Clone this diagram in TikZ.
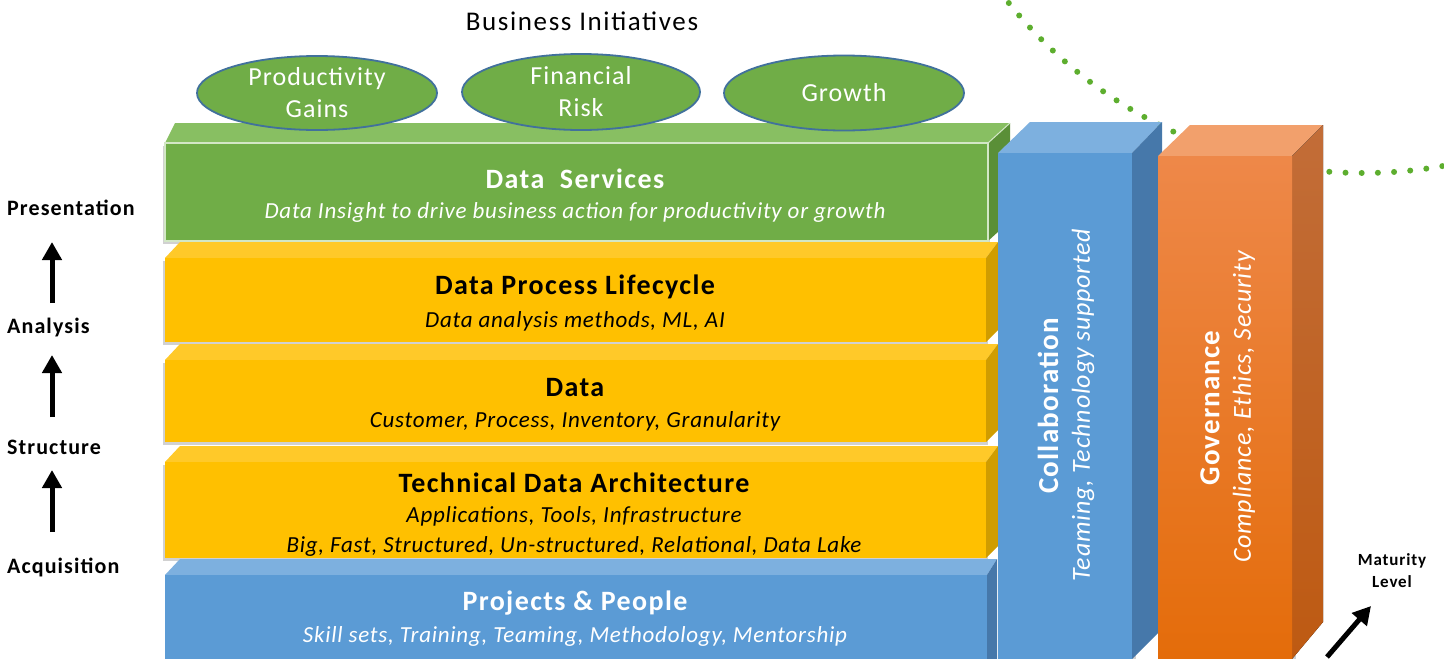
\documentclass[tikz,border=0pt]{standalone}
\usepackage{fontspec}
\setmainfont{Carlito}
\usetikzlibrary{arrows.meta,shapes.geometric}
\definecolor{gfront}{HTML}{70AD47}
\definecolor{gtop}{HTML}{88BF62}
\definecolor{gside}{HTML}{5A8F37}
\definecolor{gedge}{HTML}{D3E7C6}
\definecolor{yfront}{HTML}{FFC000}
\definecolor{ytop}{HTML}{FFC929}
\definecolor{yside}{HTML}{D09D00}
\definecolor{bfront}{HTML}{5B9BD5}
\definecolor{btop}{HTML}{7DB0DF}
\definecolor{bside}{HTML}{4678AA}
\definecolor{otop}{HTML}{F2A06C}
\definecolor{ofronttop}{HTML}{EE8849}
\definecolor{ofrontbot}{HTML}{E46C0A}
\definecolor{osidetop}{HTML}{C26D38}
\definecolor{osidebot}{HTML}{BE5A12}
\definecolor{ellborder}{HTML}{41719C}
\definecolor{dotgreen}{HTML}{5DAE2E}
\newcommand{\ls}[1]{\addfontfeature{LetterSpace=#1}}
\tikzset{
  ttl/.style={font=\fontsize{28}{32}\selectfont\bfseries\ls{5}},
  subt/.style={font=\fontsize{23}{30}\selectfont\itshape\ls{3.3}, align=center},
  coltitle/.style={font=\fontsize{29}{32}\selectfont\bfseries\ls{4}, text=white, rotate=90},
  colsub/.style={font=\fontsize{26}{30}\selectfont\itshape\ls{3}, text=white, rotate=90},
  lvl/.style={font=\fontsize{22}{26}\selectfont\bfseries\ls{5}, anchor=west, inner sep=0pt},
  initiative/.style={ellipse, fill=gfront, draw=ellborder, line width=1.8pt},
  elltext/.style={font=\fontsize{26}{32}\selectfont\ls{4}, text=white, align=center},
  bigarrow/.style={line width=5pt, -{Triangle[width=19pt,length=18pt]}},
  shadowfill/.style={fill=black, opacity=0.18},
  dotline/.style={dotgreen, line width=6pt, line cap=round, dash pattern=on 0pt off 16.2pt}
}
\begin{document}
\begin{tikzpicture}[x=1pt,y=-1pt]
\useasboundingbox (0,0) rectangle (1444,659);
\fill[white] (0,0) rectangle (1444,659);

% dotted arc
\begin{scope}
\clip (0,0) rectangle (1444,659);
\draw[dotline] (1363,-281) circle[radius=454pt];
\end{scope}

% shadows
\fill[shadowfill] (163,146) rectangle (990,244);
\fill[shadowfill] (163,261) rectangle (988,345);
\fill[shadowfill] (163,363) rectangle (988,445);
\fill[shadowfill] (163,465) rectangle (988,561);

% Data Services (green)
\fill[gtop] (165,143) -- (175,123) -- (1010,123) -- (988,143) -- cycle;
\fill[gside] (988,143) -- (1010,123) -- (1010,221) -- (988,241) -- cycle;
\fill[gfront] (165,143) rectangle (988,241);
\draw[gedge, line width=1.2pt] (165,241) -- (165,143) -- (988,143) -- (988,241) -- cycle;
\draw[gedge, line width=1pt] (988,143) -- (1010,123);

% Data Process Lifecycle (yellow)
\fill[ytop] (165,258) -- (180,242) -- (998,242) -- (986,258) -- cycle;
\fill[yside] (986,258) -- (998,242) -- (998,330) -- (986,342) -- cycle;
\fill[yfront] (165,258) rectangle (986,342);

% Data (yellow)
\fill[ytop] (165,360) -- (180,344) -- (998,344) -- (986,360) -- cycle;
\fill[yside] (986,360) -- (998,344) -- (998,430) -- (986,442) -- cycle;
\fill[yfront] (165,360) rectangle (986,442);

% Technical Data Architecture (yellow)
\fill[ytop] (165,462) -- (180,446) -- (998,446) -- (986,462) -- cycle;
\fill[yside] (986,462) -- (998,446) -- (998,546) -- (986,558) -- cycle;
\fill[yfront] (165,462) rectangle (986,558);

% Projects & People (blue)
\fill[btop] (165,575) -- (180,559) -- (997,559) -- (987,575) -- cycle;
\fill[bside] (987,575) -- (997,559) -- (997,659) -- (987,659) -- cycle;
\fill[bfront] (165,575) rectangle (987,659);

% Collaboration column
\fill[shadowfill] (1000,156) rectangle (1136,659);
\fill[btop] (998,153) -- (1030,122) -- (1162,122) -- (1132,153) -- cycle;
\fill[bside] (1132,153) -- (1162,122) -- (1162,629) -- (1132,659) -- cycle;
\fill[bfront] (998,153) rectangle (1132,659);

% Governance column
\fill[shadowfill] (1160,159) rectangle (1296,659);
\fill[otop] (1158,156) -- (1190,125) -- (1323,125) -- (1292,156) -- cycle;
\fill[top color=osidetop, bottom color=osidebot] (1292,156) -- (1323,125) -- (1323,622) -- (1292,659) -- cycle;
\fill[top color=ofronttop, bottom color=ofrontbot] (1158,156) rectangle (1292,659);

% Initiatives
\node[font=\fontsize{27}{30}\selectfont\ls{6}] (bi) at (582,21) {Business Initiatives};
\node[initiative, minimum width=240pt, minimum height=74pt] (e1) at (317,93) {};
\node[elltext] (e1t) at (317,93) {Productivity\\Gains};
\node[initiative, minimum width=238pt, minimum height=76pt] (e2) at (581,92) {};
\node[elltext] (e2t) at (581,92) {Financial\\Risk};
\node[initiative, minimum width=240pt, minimum height=75pt] (e3) at (844,93) {};
\node[elltext] (e3t) at (844,93) {Growth};

% Layer texts
\node[ttl, text=white] (ds) at (575,179) {Data~~Services};
\node[subt, text=white] (dss) at (575,212) {Data Insight to drive business action for productivity or growth};
\node[ttl] (dpl) at (575,287) {Data Process Lifecycle};
\node[subt] (dpls) at (575,321) {Data analysis methods, ML, AI};
\node[ttl] (dt) at (575,388) {Data};
\node[subt] (dts) at (575,421) {Customer, Process, Inventory, Granularity};
\node[ttl] (tda) at (574,483) {Technical Data Architecture};
\node[subt] (tdas) at (574,531) {Applications, Tools, Infrastructure\\Big, Fast, Structured, Un-structured, Relational, Data Lake};
\node[ttl, text=white] (pp) at (575,603) {Projects \& People};
\node[subt, text=white] (pps) at (575,636) {Skill sets, Training, Teaming, Methodology, Mentorship};

% Column texts
\node[coltitle] (ct) at (1048,406) {Collaboration};
\node[colsub] (cs) at (1083,405) {Teaming, Technology supported};
\node[coltitle] (gt) at (1210,408) {Governance};
\node[colsub] (gs) at (1244,407) {Compliance, Ethics, Security};

% Level labels
\node[lvl] (l4) at (7,208) {Presentation};
\node[lvl] (l3) at (7,328) {Analysis};
\node[lvl] (l2) at (7,447) {Structure};
\node[lvl] (l1) at (7,567) {Acquisition};
\coordinate (a1s) at (52,303); \coordinate (a1e) at (52,242);
\coordinate (a2s) at (52,417); \coordinate (a2e) at (52,355);
\coordinate (a3s) at (52,532); \coordinate (a3e) at (52,470);
\draw[bigarrow] (a1s) -- (a1e);
\draw[bigarrow] (a2s) -- (a2e);
\draw[bigarrow] (a3s) -- (a3e);

% Maturity level
\node[font=\fontsize{17}{22}\selectfont\bfseries\ls{5}, align=center] (ml) at (1392,571) {Maturity\\Level};
\coordinate (m1) at (1327,657); \coordinate (m2) at (1371,606);
\draw[bigarrow] (m1) -- (m2);
\end{tikzpicture}
\end{document}
